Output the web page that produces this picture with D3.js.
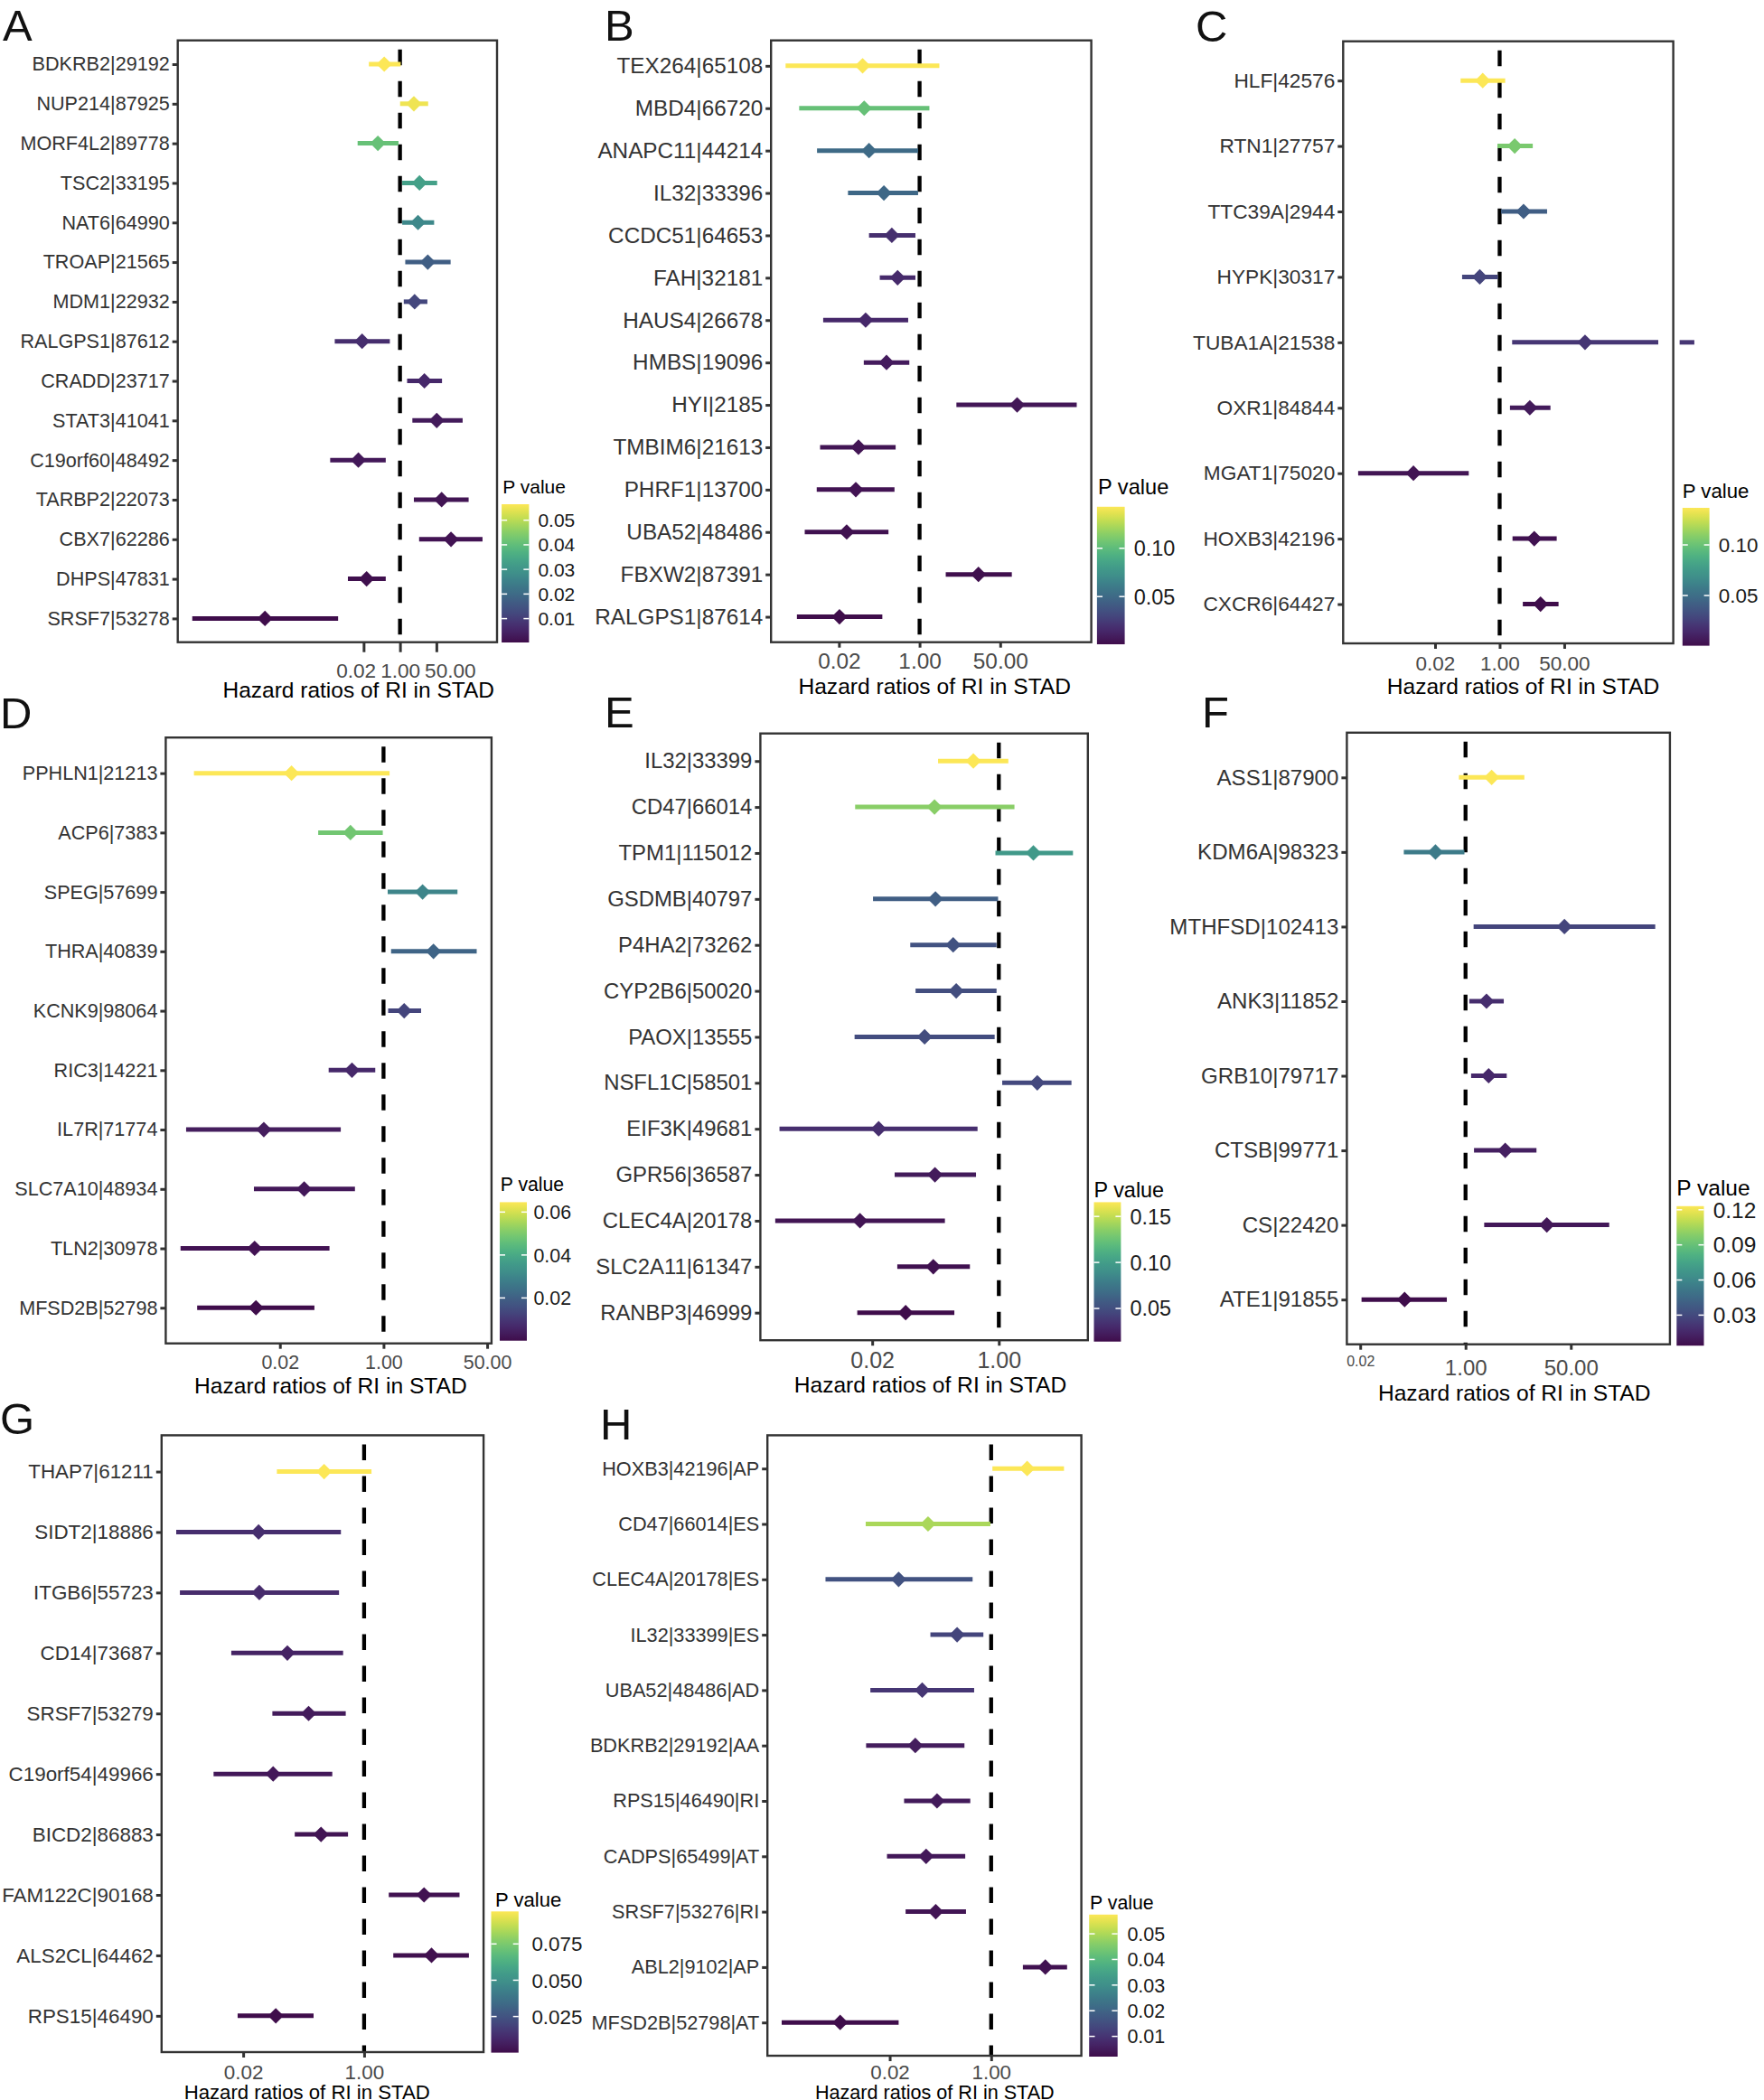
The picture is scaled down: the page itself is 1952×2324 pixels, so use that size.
<!DOCTYPE html>
<html><head><meta charset="utf-8">
<script src="https://cdn.jsdelivr.net/npm/d3@7"></script>
<style>body{margin:0;background:#fff} text{font-family:"Liberation Sans",Arial,Helvetica,sans-serif}</style>
</head><body>
<svg id="chart" width="1952" height="2324"></svg>
<script>
// ---------------- DATA ----------------
const xTickValues = [0.02, 1, 50];
const axisTitle = "Hazard ratios of RI in STAD";
const legendTitle = "P value";

// Panel A
const aGenes = ["BDKRB2|29192","NUP214|87925","MORF4L2|89778","TSC2|33195","NAT6|64990","TROAP|21565","MDM1|22932","RALGPS1|87612","CRADD|23717","STAT3|41041","C19orf60|48492","TARBP2|22073","CBX7|62286","DHPS|47831","SRSF7|53278"];
const aHR = [0.184,4.45,0.0927,8.14,6.93,19.8,4.82,0.017,13.8,52.0,0.0114,87.9,241,0.0276,4.95e-7];
const aLo = [0.0352,1.01,0.0105,1.27,1.27,1.76,1.50,0.0009,2.15,3.78,0.00055,4.45,7.82,0.0037,2.0e-10];
const aHi = [1.08,20.6,0.851,54.2,39.2,231,19.0,0.336,91.5,841,0.216,1603,7129,0.216,0.00129];
const aP = [0.0565,0.055,0.041,0.033,0.027,0.017,0.012,0.007,0.006,0.003,0.0025,0.002,0.0014,0.0009,0.0003];
const aLegendTicks = [0.01,0.02,0.03,0.04,0.05];

// Panel B
const bGenes = ["TEX264|65108","MBD4|66720","ANAPC11|44214","IL32|33396","CCDC51|64653","FAH|32181","HAUS4|26678","HMBS|19096","HYI|2185","TMBIM6|21613","PHRF1|13700","UBA52|48486","FBXW2|87391","RALGPS1|87614"];
const bHR = [0.063,0.068,0.086,0.177,0.26,0.344,0.073,0.201,113.8,0.0515,0.0453,0.0291,17.4,0.0205];
const bLo = [0.0015,0.0029,0.0069,0.031,0.086,0.145,0.0093,0.0667,5.97,0.008,0.0068,0.0038,3.56,0.0026];
const bHi = [2.61,1.61,0.93,0.93,0.817,0.817,0.575,0.608,2051,0.313,0.296,0.221,87.9,0.164];
const bP = [0.143,0.103,0.050,0.048,0.018,0.016,0.015,0.008,0.006,0.005,0.0035,0.0027,0.002,0.0006];
const bLegendTicks = [0.05,0.10];

// Panel C
const cGenes = ["HLF|42576","RTN1|27757","TTC39A|2944","HYPK|30317","TUBA1A|21538","OXR1|84844","MGAT1|75020","HOXB3|42196","CXCR6|64427"];
const cHR = [0.359,2.49,4.26,0.30,176,6.22,0.0054,8.13,11.9];
const cLo = [0.094,0.875,1.09,0.103,2.13,1.87,0.00019,2.18,4.07];
const cHi = [1.40,7.43,17.7,0.895,14860,21.7,0.154,31.7,35.4];
const cP = [0.1366,0.105,0.041,0.028,0.021,0.007,0.0045,0.0024,0.0004];
const cLegendTicks = [0.05,0.10];
// stray piece of the TUBA1A interval printed outside the panel frame
const cStrayGene = "TUBA1A|21538";
const cStrayFrom = 54200, cStrayTo = 132000, cStrayP = 0.021;

// Panel D
const dGenes = ["PPHLN1|21213","ACP6|7383","SPEG|57699","THRA|40839","KCNK9|98064","RIC3|14221","IL7R|71774","SLC7A10|48934","TLN2|30978","MFSD2B|52798"];
const dHR = [0.031,0.287,4.37,6.59,2.18,0.304,0.0109,0.050,0.0077,0.0081];
const dLo = [0.00078,0.0849,1.17,1.33,1.19,0.126,0.00058,0.0075,0.00047,0.00088];
const dHi = [1.256,0.972,16.3,33.7,4.13,0.732,0.199,0.340,0.130,0.0736];
const dP = [0.0646,0.0485,0.030,0.021,0.013,0.0066,0.004,0.0027,0.0014,0.0001];
const dLegendTicks = [0.02,0.04,0.06];

// Panel E
const eGenes = ["IL32|33399","CD47|66014","TPM1|115012","GSDMB|40797","P4HA2|73262","CYP2B6|50020","PAOX|13555","NSFL1C|58501","EIF3K|49681","GPR56|36587","CLEC4A|20178","SLC2A11|61347","RANBP3|46999"];
const eHR = [0.455,0.137,2.91,0.141,0.244,0.268,0.101,3.28,0.0244,0.139,0.0137,0.132,0.0562];
const eLo = [0.153,0.0118,0.90,0.0205,0.0648,0.0763,0.0116,1.11,0.00114,0.040,0.001,0.0434,0.0126];
const eHi = [1.34,1.62,9.88,0.977,0.932,0.932,0.879,9.43,0.518,0.494,0.189,0.409,0.253];
const eP = [0.1655,0.135,0.097,0.0595,0.052,0.050,0.049,0.047,0.032,0.0216,0.0185,0.0163,0.014];
const eLegendTicks = [0.05,0.10,0.15];

// Panel F
const fGenes = ["ASS1|87900","KDM6A|98323","MTHFSD|102413","ANK3|11852","GRB10|79717","CTSB|99771","CS|22420","ATE1|91855"];
const fHR = [2.64,0.327,39.4,2.18,2.36,4.37,20.5,0.104];
const fLo = [0.782,0.101,1.35,1.15,1.23,1.37,2.0,0.021];
const fHi = [8.89,0.96,1150,4.14,4.62,13.95,208,0.499];
const fP = [0.1231,0.054,0.0277,0.018,0.0158,0.0122,0.0087,0.0039];
const fLegendTicks = [0.03,0.06,0.09,0.12];

// Panel G
const gGenes = ["THAP7|61211","SIDT2|18886","ITGB6|55723","CD14|73687","SRSF7|53279","C19orf54|49966","BICD2|86883","FAM122C|90168","ALS2CL|64462","RPS15|46490"];
const gHR = [0.274,0.0329,0.0337,0.0835,0.166,0.0527,0.248,6.95,8.85,0.0574];
const gLo = [0.0595,0.00229,0.00258,0.0136,0.0514,0.00767,0.106,2.22,2.57,0.0167];
const gHi = [1.27,0.472,0.444,0.507,0.552,0.357,0.594,21.9,29.7,0.195];
const gP = [0.0974,0.0118,0.0108,0.0079,0.005,0.004,0.003,0.002,0.0011,0.0001];
const gLegendTicks = [0.025,0.050,0.075];

// Panel H
const hGenes = ["HOXB3|42196|AP","CD47|66014|ES","CLEC4A|20178|ES","IL32|33399|ES","UBA52|48486|AD","BDKRB2|29192|AA","RPS15|46490|RI","CADPS|65499|AT","SRSF7|53276|RI","ABL2|9102|AP","MFSD2B|52798|AT"];
const hHR = [4.01,0.0877,0.0282,0.269,0.0701,0.0536,0.124,0.0814,0.118,8.09,0.00296];
const hLo = [1.05,0.00792,0.00168,0.096,0.00948,0.00804,0.0348,0.018,0.0369,3.4,0.00031];
const hHi = [16.6,0.97,0.489,0.741,0.519,0.357,0.447,0.368,0.379,18.7,0.0282];
const hP = [0.0575,0.0497,0.016,0.0132,0.0104,0.0054,0.0049,0.0043,0.0038,0.003,0.0021];
const hLegendTicks = [0.01,0.02,0.03,0.04,0.05];

// ---------------- LAYOUT ----------------
const panels = [
 {id:"A", genes:aGenes, hr:aHR, lo:aLo, hi:aHi, p:aP, legTicks:aLegendTicks, legFmt:".2f",
  letter:[3,45], box:[196.7,44.7,550,710.7], bar:[555.1,558,30.3,153], legTitle:[556.3,546], legLabelX:595.4,
  fs:{yl:21.6,tick:22.6,title:24.5,leg:21,legT:21}, tickBase:750, titleBase:772, titleX:396.7, tickLen:11, spread:true},
 {id:"B", genes:bGenes, hr:bHR, lo:bLo, hi:bHi, p:bP, legTicks:bLegendTicks, legFmt:".2f",
  letter:[669,45], box:[853.2,44.7,1207.6,710.7], bar:[1213.9,560.8,30.7,152.2], legTitle:[1215,547], legLabelX:1254.7,
  fs:{yl:24.3,tick:24.4,title:24.6,leg:23.5,legT:23.6}, tickBase:740.4, titleBase:768, titleX:1034.2, tickLen:6},
 {id:"C", genes:cGenes, hr:cHR, lo:cLo, hi:cHi, p:cP, legTicks:cLegendTicks, legFmt:".2f",
  letter:[1323,46], box:[1486.3,45.7,1851.6,712], bar:[1861.8,562,29.8,152.6], legTitle:[1861.8,551], legLabelX:1901.8,
  fs:{yl:22.7,tick:22.5,title:24.6,leg:22.4,legT:22.2}, tickBase:742, titleBase:768, titleX:1685.5, tickLen:6,
  stray:{gene:cStrayGene, from:cStrayFrom, to:cStrayTo, p:cStrayP}},
 {id:"D", genes:dGenes, hr:dHR, lo:dLo, hi:dHi, p:dP, legTicks:dLegendTicks, legFmt:".2f",
  letter:[0,806], box:[183.4,816.2,543.9,1486.7], bar:[553,1330.4,30,153.3], legTitle:[553.8,1318], legLabelX:590.4,
  fs:{yl:21.6,tick:21.4,title:24.6,leg:21.4,legT:21.2}, tickBase:1515, titleBase:1542, titleX:365.9, tickLen:6},
 {id:"E", genes:eGenes, hr:eHR, lo:eLo, hi:eHi, p:eP, legTicks:eLegendTicks, legFmt:".2f",
  letter:[669,805], box:[841.4,811.7,1203.8,1483.2], bar:[1210.5,1330.4,29.9,154.3], legTitle:[1210.5,1325.4], legLabelX:1250.5,
  fs:{yl:23.9,tick:25,title:24.6,leg:23.4,legT:23.4}, tickBase:1514, titleBase:1541, titleX:1029.5, tickLen:6},
 {id:"F", genes:fGenes, hr:fHR, lo:fLo, hi:fHi, p:fP, legTicks:fLegendTicks, legFmt:".2f",
  letter:[1330,805], box:[1490.4,810.8,1847.9,1487.7], bar:[1855.3,1334.8,30.2,154.4], legTitle:[1855.3,1323], legLabelX:1895.7,
  fs:{yl:24.1,tick:24,title:24.6,leg:24.5,legT:24.5}, tickBase:1522, titleBase:1550, titleX:1675.7, tickLen:6,
  smallTick:{value:0.02, size:16, base:1512}},
 {id:"G", genes:gGenes, hr:gHR, lo:gLo, hi:gHi, p:gP, legTicks:gLegendTicks, legFmt:".3f",
  letter:[0,1587], box:[178.8,1588.4,535.1,2271], bar:[543.5,2115.3,30.3,156.3], legTitle:[548,2110.3], legLabelX:588.4,
  fs:{yl:22.4,tick:22.4,title:22.2,leg:22.4,legT:22.1}, tickBase:2301, titleBase:2323, titleX:339.7, tickLen:6},
 {id:"H", genes:hGenes, hr:hHR, lo:hLo, hi:hHi, p:hP, legTicks:hLegendTicks, legFmt:".2f",
  letter:[664,1593], box:[849.2,1588.4,1196.6,2275], bar:[1205.2,2118.8,31.5,157.2], legTitle:[1206,2112.8], legLabelX:1247.4,
  fs:{yl:21.7,tick:22.3,title:21.6,leg:21.5,legT:21.3}, tickBase:2301, titleBase:2323, titleX:1034.3, tickLen:6}
];

const svg = d3.select("#chart");
svg.append("rect").attr("width",1952).attr("height",2324).attr("fill","#fff");
const defs = svg.append("defs");
const frame = "#333333";
const diamond = r => `M0,${-r}L${r},0L0,${r}L${-r},0Z`;
// viridis, slightly muted as in the printed figure
const palette = t => { const c = d3.lch(d3.interpolateViridis(t)); c.c *= 0.82; return c.formatHex(); };

function drawPanel(cfg) {
  const [x0,y0,x1,y1] = cfg.box;
  const logs = cfg.lo.concat(cfg.hi).map(Math.log10);
  const mn = d3.min(logs), mx = d3.max(logs), pad = (mx - mn) * 0.05;
  const x = d3.scaleLog().domain([Math.pow(10, mn - pad), Math.pow(10, mx + pad)]).range([x0, x1]);
  const y = d3.scalePoint().domain(cfg.genes).range([y0, y1]).padding(0.6);
  const pExt = d3.extent(cfg.p);
  const norm = d3.scaleLinear().domain(pExt).range([0, 1]);
  const col = v => palette(Math.max(0, Math.min(1, norm(v))));
  const rows = cfg.genes.map((g, i) => ({g, hr: cfg.hr[i], lo: cfg.lo[i], hi: cfg.hi[i], p: cfg.p[i]}));

  const g = svg.append("g").attr("class", "panel-" + cfg.id);

  // panel letter
  g.append("text").attr("x", cfg.letter[0]).attr("y", cfg.letter[1])
    .attr("font-size", 49).attr("fill", "#111").text(cfg.id);

  // reference line at HR = 1
  g.append("line").attr("x1", x(1)).attr("x2", x(1)).attr("y1", y0).attr("y2", y1)
    .attr("stroke", "#000").attr("stroke-width", 4.3)
    .attr("stroke-dasharray", "17.5,17.5").attr("stroke-dashoffset", 25);

  // confidence intervals
  g.selectAll("line.ci").data(rows).join("line").attr("class", "ci")
    .attr("x1", d => x(d.lo)).attr("x2", d => x(d.hi))
    .attr("y1", d => y(d.g)).attr("y2", d => y(d.g))
    .attr("stroke", d => col(d.p)).attr("stroke-width", 5);

  if (cfg.stray) {
    g.append("line").attr("x1", x(cfg.stray.from)).attr("x2", x(cfg.stray.to))
      .attr("y1", y(cfg.stray.gene)).attr("y2", y(cfg.stray.gene))
      .attr("stroke", col(cfg.stray.p)).attr("stroke-width", 5);
  }

  // point estimates
  g.selectAll("path.pt").data(rows).join("path").attr("class", "pt")
    .attr("d", diamond(8.6))
    .attr("transform", d => `translate(${x(d.hr)},${y(d.g)})`)
    .attr("fill", d => col(d.p));

  // frame
  g.append("rect").attr("x", x0).attr("y", y0).attr("width", x1 - x0).attr("height", y1 - y0)
    .attr("fill", "none").attr("stroke", frame).attr("stroke-width", 2.4);

  // y axis
  const ya = g.append("g").attr("transform", `translate(${x0},0)`)
    .call(d3.axisLeft(y).tickSize(6).tickPadding(3));
  ya.select(".domain").remove();
  ya.selectAll(".tick line").attr("stroke", frame).attr("stroke-width", 3);
  ya.selectAll(".tick text").attr("font-size", cfg.fs.yl).attr("fill", "#333")
    .attr("font-family", '"Liberation Sans",Arial,sans-serif');

  // x axis
  const [dlo, dhi] = x.domain();
  const tv = xTickValues.filter(v => v >= dlo && v <= dhi);
  const xa = g.append("g").attr("transform", `translate(0,${y1})`)
    .call(d3.axisBottom(x).tickValues(tv).tickFormat(d3.format(".2f")).tickSize(cfg.tickLen).tickPadding(4));
  xa.select(".domain").remove();
  xa.selectAll(".tick line").attr("stroke", frame).attr("stroke-width", 3);
  xa.selectAll(".tick text")
    .attr("font-size", d => (cfg.smallTick && d === cfg.smallTick.value) ? cfg.smallTick.size : cfg.fs.tick)
    .attr("y", d => ((cfg.smallTick && d === cfg.smallTick.value) ? cfg.smallTick.base : cfg.tickBase) - y1)
    .attr("dy", 0).attr("fill", "#4a4a4a")
    .attr("font-family", '"Liberation Sans",Arial,sans-serif');

  // spread overlapping tick labels away from the label at 1.00
  if (cfg.spread) {
    const labs = xa.selectAll(".tick").nodes().map(n => {
      const t = d3.select(n).select("text");
      const v = d3.select(n).datum();
      return {t, v, cx: x(v), w: t.node().getComputedTextLength()};
    }).sort((a, b) => a.cx - b.cx);
    const mid = labs.findIndex(l => l.v === 1);
    const gap = 5;
    for (let i = mid - 1; i >= 0; i--) {
      const right = labs[i].cx + labs[i].w / 2, lim = labs[i + 1].cx - labs[i + 1].w / 2 - gap;
      if (right > lim) labs[i].cx -= (right - lim);
    }
    for (let i = mid + 1; i < labs.length; i++) {
      const left = labs[i].cx - labs[i].w / 2, lim = labs[i - 1].cx + labs[i - 1].w / 2 + gap;
      if (left < lim) labs[i].cx += (lim - left);
    }
    labs.forEach(l => l.t.attr("x", l.cx - x(l.v)));
  }

  // axis title
  g.append("text").attr("x", cfg.titleX).attr("y", cfg.titleBase).attr("text-anchor", "middle")
    .attr("font-size", cfg.fs.title).attr("fill", "#000").text(axisTitle);

  // colour bar legend
  const [bx, by, bw, bh] = cfg.bar;
  const gid = "grad" + cfg.id;
  const grad = defs.append("linearGradient").attr("id", gid)
    .attr("x1", 0).attr("y1", 1).attr("x2", 0).attr("y2", 0);
  d3.range(0, 1.0001, 0.05).forEach(t => grad.append("stop")
    .attr("offset", t).attr("stop-color", palette(t)));
  g.append("rect").attr("x", bx).attr("y", by).attr("width", bw).attr("height", bh)
    .attr("fill", `url(#${gid})`);
  const yl = d3.scaleLinear().domain(pExt).range([by + bh, by]);
  const lt = g.selectAll("g.lt").data(cfg.legTicks).join("g").attr("class", "lt");
  lt.append("line").attr("x1", bx).attr("x2", bx + bw / 5).attr("y1", d => yl(d)).attr("y2", d => yl(d))
    .attr("stroke", "#fff").attr("stroke-width", 1.5);
  lt.append("line").attr("x1", bx + bw - bw / 5).attr("x2", bx + bw).attr("y1", d => yl(d)).attr("y2", d => yl(d))
    .attr("stroke", "#fff").attr("stroke-width", 1.5);
  lt.append("text").attr("x", cfg.legLabelX).attr("y", d => yl(d)).attr("dy", "0.36em")
    .attr("font-size", cfg.fs.leg).attr("fill", "#1a1a1a").text(d => d3.format(cfg.legFmt)(d));
  g.append("text").attr("x", cfg.legTitle[0]).attr("y", cfg.legTitle[1])
    .attr("font-size", cfg.fs.legT).attr("fill", "#000").text(legendTitle);
}

panels.forEach(drawPanel);
</script>
</body></html>
